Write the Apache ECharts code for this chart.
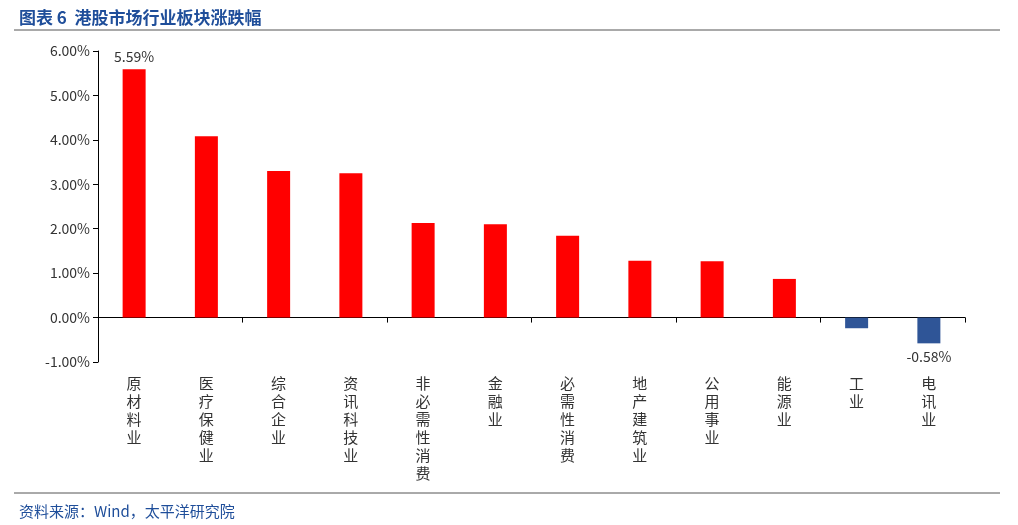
<!DOCTYPE html><html><head><meta charset="utf-8"><script src="https://cdn.jsdelivr.net/npm/echarts@6/dist/echarts.min.js"></script>
<style>body{margin:0}#c{width:1018px;height:525px}</style></head><body><div id="c"></div><script>
const categories=['原材料业','医疗保健业','综合企业','资讯科技业','非必需性消费','金融业','必需性消费','地产建筑业','公用事业','能源业','工业','电讯业'];
const values=[5.59,4.08,3.30,3.25,2.13,2.10,1.84,1.28,1.27,0.87,-0.24,-0.58];
const yTicks=[-1,0,1,2,3,4,5,6];
const labeled=[0,11];
const F='"Noto Sans CJK SC", sans-serif';
const c=echarts.init(document.getElementById('c'));
c.setOption({
 animation:false,
 title:[{text:'图表 6  港股市场行业板块涨跌幅',left:14,top:4,textStyle:{color:'#1F4E9A',fontSize:17,fontWeight:'bold',fontFamily:F}},
  {text:'资料来源：Wind，太平洋研究院',left:14,top:499,textStyle:{color:'#1F4E9A',fontSize:15,fontWeight:'normal',fontFamily:F}}],
 graphic:[{type:'line',shape:{x1:14,y1:30,x2:1000,y2:30},style:{stroke:'#555',lineWidth:1}},
  {type:'line',shape:{x1:14,y1:493,x2:1000,y2:493},style:{stroke:'#555',lineWidth:1}}],
 grid:{left:98,right:53,top:51,bottom:163},
 xAxis:[{type:'category',data:categories,axisLine:{onZero:true,lineStyle:{color:'#000'}},axisTick:{show:true,length:5,lineStyle:{color:'#000'}},axisLabel:{show:false}},
  {type:'category',data:categories,position:'bottom',offset:0,axisLine:{show:false},axisTick:{show:false},
   axisLabel:{margin:12,fontSize:15,lineHeight:18,color:'#333',fontFamily:F,formatter:v=>v.split('').join('\n'),verticalAlign:'top'}}],
 yAxis:{type:'value',min:-1,max:6,interval:1,axisLine:{show:true,lineStyle:{color:'#000'}},axisTick:{show:true,length:5,lineStyle:{color:'#000'}},splitLine:{show:false},
  axisLabel:{fontSize:14,color:'#333',fontFamily:F,formatter:v=>v.toFixed(2)+'%'}},
 series:[{type:'bar',xAxisIndex:0,barWidth:23,
  data:values.map((v,i)=>({value:v,itemStyle:{color:v<0?'#2F5597':'#FF0000'},
   label:{show:labeled.includes(i),position:v<0?'bottom':'top',formatter:v.toFixed(2)+'%',fontSize:14,color:'#333',fontFamily:F,distance:v<0?6:6}}))}]
});
</script></body></html>
